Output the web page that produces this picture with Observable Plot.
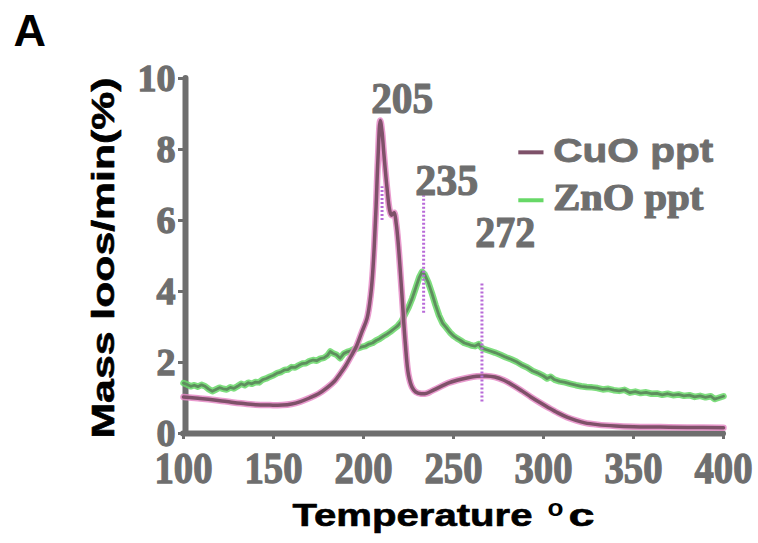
<!DOCTYPE html>
<html>
<head>
<meta charset="utf-8">
<script src="https://cdn.jsdelivr.net/npm/d3@7"></script>
<script src="https://cdn.jsdelivr.net/npm/@observablehq/plot@0.6"></script>
<style>
  html, body { margin: 0; padding: 0; background: #fff; }
  #chart svg { display: block; }
</style>
</head>
<body>
<div id="chart"></div>
<script>
// ---- data ----
const cuoT = [100,108,116,124,132,140,148,155,160,165,170,175,180,184,187,190,193,196,199,202,204,205,206,207,208,209.3,210.3,211.2,213,214.5,215.5,217,218.2,219.3,221.3,223.2,225,227,229,232,235,238,242,247,252,258,263,268,273,278,283,288,293,298,303,308,313,318,323,330,340,350,365,380,400];
const cuoV = [1.03,0.99,0.95,0.90,0.85,0.81,0.80,0.80,0.83,0.90,1.0,1.12,1.3,1.48,1.68,1.9,2.17,2.45,2.85,3.25,3.9,4.45,5.3,6.4,7.7,8.82,8.5,7.95,6.95,6.3,6.15,6.22,5.9,5.35,3.95,2.55,1.65,1.3,1.17,1.12,1.13,1.2,1.3,1.42,1.5,1.57,1.61,1.62,1.59,1.5,1.36,1.2,1.03,0.87,0.72,0.58,0.46,0.37,0.30,0.25,0.21,0.19,0.18,0.17,0.16];

const znoT = [100,102,104,106,108,110,112,114,116,118,120,122,124,126,128,130,132,134,136,138,140,142,144,146,148,150,152,154,156,158,160,162,164,166,168,170,172,174,176,178,180,181.5,183,185,187,189,191,193,195,197,199,201,203,205,207,209,211,213,215,217,219,221,223,225,227,229,231,232.5,234,236,238,240,242,244,246,248,250,252,254,256,258,260,262,264,265.5,267,270,273,276,279,282,285,288,291,294,297,300,302,304,306,309,312,315,318,321,324,327,330,333,336,339,342,345,348,351,354,357,360,363,366,369,372,375,378,381,384,387,390,393,395,397,400];
const znoV = [1.42,1.38,1.33,1.36,1.32,1.37,1.33,1.25,1.19,1.24,1.29,1.26,1.24,1.30,1.27,1.33,1.40,1.36,1.43,1.40,1.45,1.44,1.52,1.55,1.60,1.64,1.70,1.73,1.79,1.80,1.87,1.86,1.92,1.97,1.98,2.04,2.07,2.05,2.11,2.13,2.20,2.31,2.26,2.22,2.12,2.25,2.30,2.33,2.38,2.40,2.44,2.46,2.52,2.55,2.62,2.67,2.74,2.80,2.87,2.95,3.03,3.15,3.35,3.55,3.80,4.10,4.40,4.55,4.48,4.25,3.95,3.62,3.32,3.10,2.98,2.85,2.75,2.68,2.62,2.55,2.52,2.48,2.46,2.52,2.42,2.38,2.33,2.28,2.22,2.15,2.09,2.02,1.93,1.86,1.76,1.70,1.62,1.55,1.60,1.52,1.47,1.44,1.40,1.36,1.33,1.31,1.30,1.28,1.24,1.26,1.22,1.20,1.23,1.15,1.18,1.14,1.16,1.12,1.13,1.09,1.12,1.08,1.10,1.06,1.08,1.03,1.06,1.02,1.05,0.97,1.0,1.05];

const xTicks = [100,150,200,250,300,350,400];
const yTicks = [0,2,4,6,8,10];

// peak markers (dotted lines) and their labels
const peakLineT  = [210.3, 233.4, 265.8];
const peakLineY1 = [6.0, 3.39, 0.89];
const peakLineY2 = [6.95, 6.7, 4.26];
const peakLabels = ["205", "235", "272"];
const peakLabelT = [221.5, 246.2, 278.7];
const peakLabelY = [9.02, 6.71, 5.25];

// legend
const seriesNames = ["CuO ppt", "ZnO ppt"];
const legendT1 = 286, legendT2 = 300, legendTextT = 305.4;
const legendLineY = [7.92, 6.57];
const legendTextY = [7.64, 6.29];

const cuo = cuoT.map((t, i) => ({t, v: cuoV[i]}));
const zno = znoT.map((t, i) => ({t, v: znoV[i]}));
const peaks = peakLineT.map((t, i) => ({t, y1: peakLineY1[i], y2: peakLineY2[i]}));
const plabels = peakLabels.map((s, i) => ({s, t: peakLabelT[i], v: peakLabelY[i]}));
const legend = seriesNames.map((s, i) => ({s, y: legendLineY[i], ty: legendTextY[i]}));

const gray = "#6e6e6e";
const cuoCore = "#7e5169", cuoHalo = "#e58ac6";
const znoCore = "#5e8e5e", znoHalo = "#67d867";

const chart = Plot.plot({
  width: 758,
  height: 543,
  marginLeft: 183,
  marginRight: 35,
  marginTop: 78,
  marginBottom: 110,
  x: {domain: [100, 400]},
  y: {domain: [0, 10]},
  style: {background: "#fff", overflow: "visible"},
  marks: [
    // axes lines
    Plot.ruleY([0], {stroke: gray, strokeWidth: 6, strokeLinecap: "round"}),
    Plot.ruleX([100], {y1: 0, y2: 10, stroke: gray, strokeWidth: 6, strokeLinecap: "round", dx: 2}),
    Plot.axisX({ticks: xTicks, tickSize: 6, tickPadding: 12, color: gray, strokeWidth: 3,
      fontSize: 44, fontFamily: "Liberation Serif", fontWeight: "bold", tickFormat: d => String(d), label: null}),
    Plot.axisY({ticks: yTicks, tickSize: 5, tickPadding: 3, color: gray, strokeWidth: 3,
      fontSize: 38, fontFamily: "Liberation Serif", fontWeight: "bold", tickFormat: d => String(d), label: null}),
    // curves
    Plot.line(zno, {x: "t", y: "v", stroke: znoHalo, strokeWidth: 6.5, strokeOpacity: 0.85}),
    Plot.line(zno, {x: "t", y: "v", stroke: znoCore, strokeWidth: 2.8}),
    Plot.line(cuo, {x: "t", y: "v", stroke: cuoHalo, strokeWidth: 6.5, strokeOpacity: 0.85, curve: "catmull-rom"}),
    Plot.line(cuo, {x: "t", y: "v", stroke: cuoCore, strokeWidth: 3.5, curve: "catmull-rom"}),
    // peak dotted lines
    Plot.ruleX(peaks, {x: "t", y1: "y1", y2: "y2", stroke: "#b86ad8", strokeWidth: 3, strokeDasharray: "2,2"}),
    // peak labels
    Plot.text(plabels, {x: "t", y: "v", text: "s", fill: gray, fontSize: 44, fontFamily: "Liberation Serif",
      fontWeight: "bold", textAnchor: "middle", lineAnchor: "bottom", stroke: gray, strokeWidth: 1.2}),
    // legend
    Plot.link(legend, {x1: () => legendT1, x2: () => legendT2, y1: "y", y2: "y",
      stroke: (d, i) => i, strokeWidth: 4}),
    Plot.text(legend.slice(0, 1), {x: () => legendTextT, y: "ty", text: "s", fill: gray, fontSize: 34,
      fontFamily: "Liberation Sans", fontWeight: "bold", textAnchor: "start", lineAnchor: "bottom", stroke: gray, strokeWidth: 0.8}),
    Plot.text(legend.slice(1), {x: () => legendTextT, y: "ty", text: "s", fill: gray, fontSize: 38,
      fontFamily: "Liberation Serif", fontWeight: "bold", textAnchor: "start", lineAnchor: "bottom", stroke: gray, strokeWidth: 1.2}),
    // titles
    Plot.text(["Mass loos/min(%)"], {frameAnchor: "left", dx: -70, dy: 2, rotate: -90, fill: "#000",
      fontSize: 32, fontFamily: "Liberation Sans", fontWeight: "bold", textAnchor: "middle", lineAnchor: "bottom",
      stroke: "#000", strokeWidth: 0.6}),
    Plot.text(["Temperature"], {frameAnchor: "bottom-left", dx: 109, dy: 92, fill: "#000",
      fontSize: 32, fontFamily: "Liberation Sans", fontWeight: "bold", textAnchor: "start", lineAnchor: "bottom",
      stroke: "#000", strokeWidth: 0.6}),
    Plot.text(["o"], {frameAnchor: "bottom-left", dx: 364, dy: 82, fill: "#000",
      fontSize: 23, fontFamily: "Liberation Sans", fontWeight: "bold", textAnchor: "start", lineAnchor: "bottom"}),
    Plot.text(["c"], {frameAnchor: "bottom-left", dx: 385, dy: 92, fill: "#000",
      fontSize: 32, fontFamily: "Liberation Sans", fontWeight: "bold", textAnchor: "start", lineAnchor: "bottom",
      stroke: "#000", strokeWidth: 0.6}),
    Plot.text(["A"], {frameAnchor: "top-left", dx: -170, dy: -33, fill: "#000",
      fontSize: 45, fontFamily: "Liberation Sans", fontWeight: "bold", textAnchor: "start", lineAnchor: "bottom"})
  ],
  color: {domain: [0, 1], range: [cuoCore, znoHalo]}
});

document.getElementById("chart").appendChild(chart);

// stretch texts to the widths seen in the reference; thicken axis tick labels
const svg = d3.select(chart);
const widths = {
  "Mass loos/min(%)": 361, "Temperature": 240, "c": 26, "o": 16,
  "CuO ppt": 160, "ZnO ppt": 150, "205": 62, "235": 63, "272": 60,
  "100": 58, "150": 58, "200": 58, "250": 58, "300": 58, "350": 58, "400": 58
};
svg.selectAll("text").each(function() {
  const t = this.textContent;
  const inY = this.closest('g[aria-label="y-axis tick label"]');
  if (!inY && widths[t] != null) {
    d3.select(this).attr("textLength", widths[t]).attr("lengthAdjust", "spacingAndGlyphs");
  }
});
svg.selectAll('g[aria-label="x-axis tick label"] text, g[aria-label="y-axis tick label"] text')
  .attr("stroke", gray).attr("stroke-width", 1.3);
</script>
</body>
</html>
